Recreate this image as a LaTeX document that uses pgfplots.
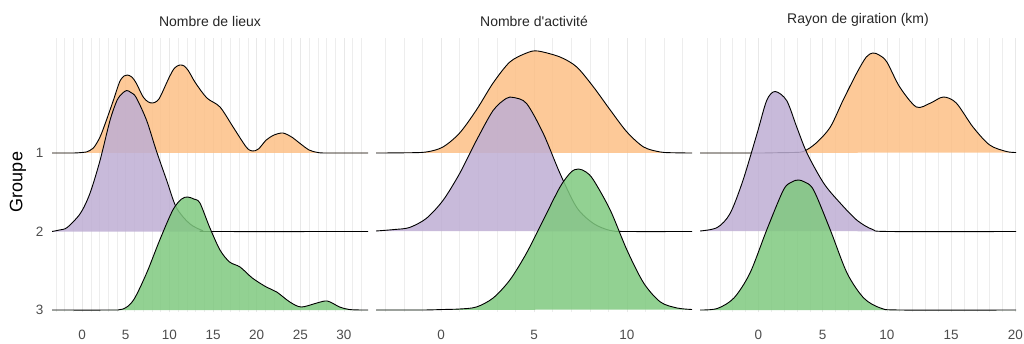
\documentclass[border=0pt]{standalone}
\usepackage{pgfplots}
\usepackage{pgfplotstable}
\pgfplotsset{compat=1.18}
\usepackage{fontspec}
\setmainfont{Liberation Sans}
\definecolor{accGreen}{HTML}{7FC97F}
\definecolor{accPurple}{HTML}{BEAED4}
\definecolor{accOrange}{HTML}{FDC086}
\definecolor{tickgrey}{HTML}{4D4D4D}

% Panel 1: Nombre de lieux (x, height)
\pgfplotstableread{
x h
-3.44 0
-1 0
0 0.5
0.5 1
1.3 5
2.06 16
2.8 33
3.6 53
4.3 71
4.8 77
5.2 78
5.7 76
6.2 70
7.0 56
7.6 51
8.1 50
8.6 52
9.0 57
10.0 76
10.6 85
11.2 88
11.7 87
12.2 82
13.0 70
14.3 55
15.8 46
17.3 26
18.8 6
19.5 2
20.2 4
21.1 13
22.0 18
23.0 20
24.0 16
24.9 10
26.0 3
27 0.5
28 0
32.75 0
}\LieuxA
\pgfplotstableread{
x h
-3.44 0
-2.6 1.5
-1.7 4
-0.2 18
0.9 38
2.06 71
3.2 111
4.0 131
4.6 138
5.1 141
5.6 139
6.2 134
7.4 111
8.5 81
9.7 51
10.8 24
12.3 8
13.8 1
15 0
32.75 0
}\LieuxB
\pgfplotstableread{
x h
-3.44 0
3 0
4.7 1
5.9 10
7.4 37
8.9 70
10.4 100
11.4 111
12.1 113
12.8 111
13.5 107
14.6 83
15.8 60
16.9 48
18.1 43
19.5 32
21.1 23
22.3 18
23.8 8
25.1 3
26.9 7
28.1 9
29.5 3
30.6 0.5
32 0
32.75 0
}\LieuxC

% Panel 2: Nombre d'activite
\pgfplotstableread{
x h
-3.5 0
-2 0.2
-0.8 1
0.1 6
1.0 20
1.9 43
2.8 70
3.7 91
4.6 100
5.2 102
6.4 96
7.3 86
8.2 66
9.1 43
10.0 21
10.9 6
11.8 1
12.6 0.2
13.5 0
}\ActA
\pgfplotstableread{
x h
-3.5 0.5
-2.5 2
-1.7 4
-0.8 13
0.1 31
1.0 58
1.9 91
2.8 121
3.5 133
3.9 134
4.6 128
5.5 98
6.4 58
7.3 24
8.2 8
9.1 1
10 0
13.5 0
}\ActB
\pgfplotstableread{
x h
-3.5 0
-1 0
0.1 0.5
1.0 1
1.9 3
2.8 12
3.7 30
4.6 57
5.5 90
6.4 123
7.0 138
7.4 141
7.8 138
8.2 130
9.1 100
10.0 60
10.9 27
11.8 8
12.7 2
13.5 0.5
}\ActC

% Panel 3: Rayon de giration (km)
\pgfplotstableread{
x h
-4.54 0
0 0
1.5 0.3
2.5 0.5
3.5 1.5
4.5 10
5.6 26
6.6 53
7.7 81
8.4 96
8.9 100
9.4 98
10.0 91
11.0 66
12.3 46
13.4 50
14.4 56
15.4 50
16.7 26
18.0 8
19.3 1.5
20.05 0.5
}\RayA
\pgfplotstableread{
x h
-4.54 0.5
-3.2 4
-2.2 18
-1.2 51
-0.1 98
0.65 131
1.3 140
2.2 131
3.0 104
3.8 78
5.1 48
6.4 28
7.7 11
8.9 2
10.2 0
20.05 0
}\RayB
\pgfplotstableread{
x h
-4.54 0
-3.2 1.5
-1.9 12
-0.65 37
0.65 80
1.95 120
2.6 128
3.1 130
3.6 128
4.3 120
5.6 80
6.9 37
8.2 12
9.5 2
11 0
20.05 0
}\RayC

\pgfplotsset{
  ridge/.style={
    scale only axis, width=316pt, height=274pt,
    anchor=south west,
    ymin=-2, ymax=272,
    axis line style={draw=none},
    tick style={draw=none},
    major tick length=0pt, minor tick length=0pt,
    xmajorgrids, xminorgrids,
    major grid style={color=black!9, line width=0.5pt},
    minor grid style={color=black!7, line width=0.5pt},
    ytick={0,78.5,157},
    yticklabels={},
    /pgf/number format/assume math mode=true,
    tick label style={font=\fontsize{13.5}{15}\selectfont, text=tickgrey},
    xticklabel style={yshift=-15pt},
    yticklabel style={xshift=-5pt},
    title style={font=\fontsize{14}{16}\selectfont, text=black!85, at={(0.5,1)}, anchor=south, yshift=2pt},
  },
  fillO/.style={fill=accOrange, fill opacity=0.85, draw=none, smooth, tension=0.5},
  fillP/.style={fill=accPurple, fill opacity=0.85, draw=none, smooth, tension=0.5},
  fillG/.style={fill=accGreen, fill opacity=0.85, draw=none, smooth, tension=0.5},
  ridgeline/.style={black, line width=0.9pt, smooth, tension=0.5},
}

\begin{document}
\begin{tikzpicture}
\path[use as bounding box] (0,0) rectangle (1024pt,343pt);

\begin{axis}[ridge, at={(52pt,31pt)},
  xmin=-3.44, xmax=32.75,
  xtick={0,5,...,30}, minor xtick={-3,...,32},
  yticklabels={3,2,1},
  title={Nombre de lieux}]
\addplot[fillO] table[x=x, y expr=\thisrow{h}+157] {\LieuxA};
\addplot[ridgeline] table[x=x, y expr=\thisrow{h}+157] {\LieuxA};
\addplot[fillP] table[x=x, y expr=\thisrow{h}+78.5] {\LieuxB};
\addplot[ridgeline] table[x=x, y expr=\thisrow{h}+78.5] {\LieuxB};
\addplot[fillG] table[x=x, y=h] {\LieuxC};
\addplot[ridgeline] table[x=x, y=h] {\LieuxC};
\end{axis}

\begin{axis}[ridge, at={(376pt,31pt)},
  xmin=-3.5, xmax=13.5,
  xtick={0,5,10}, minor xtick={-3,...,13},
  title={Nombre d\textquotesingle activité}]
\addplot[fillO] table[x=x, y expr=\thisrow{h}+157] {\ActA};
\addplot[ridgeline] table[x=x, y expr=\thisrow{h}+157] {\ActA};
\addplot[fillP] table[x=x, y expr=\thisrow{h}+78.5] {\ActB};
\addplot[ridgeline] table[x=x, y expr=\thisrow{h}+78.5] {\ActB};
\addplot[fillG] table[x=x, y=h] {\ActC};
\addplot[ridgeline] table[x=x, y=h] {\ActC};
\end{axis}

\begin{axis}[ridge, at={(700pt,31pt)},
  xmin=-4.54, xmax=20.05,
  xtick={0,5,...,20}, minor xtick={-4,...,20},
  title={Rayon de giration (km)}]
\addplot[fillO] table[x=x, y expr=\thisrow{h}+157] {\RayA};
\addplot[ridgeline] table[x=x, y expr=\thisrow{h}+157] {\RayA};
\addplot[fillP] table[x=x, y expr=\thisrow{h}+78.5] {\RayB};
\addplot[ridgeline] table[x=x, y expr=\thisrow{h}+78.5] {\RayB};
\addplot[fillG] table[x=x, y=h] {\RayC};
\addplot[ridgeline] table[x=x, y=h] {\RayC};
\end{axis}

\node[rotate=90, font=\fontsize{18}{20}\selectfont] at (18pt,161pt) {Groupe};
\end{tikzpicture}
\end{document}
